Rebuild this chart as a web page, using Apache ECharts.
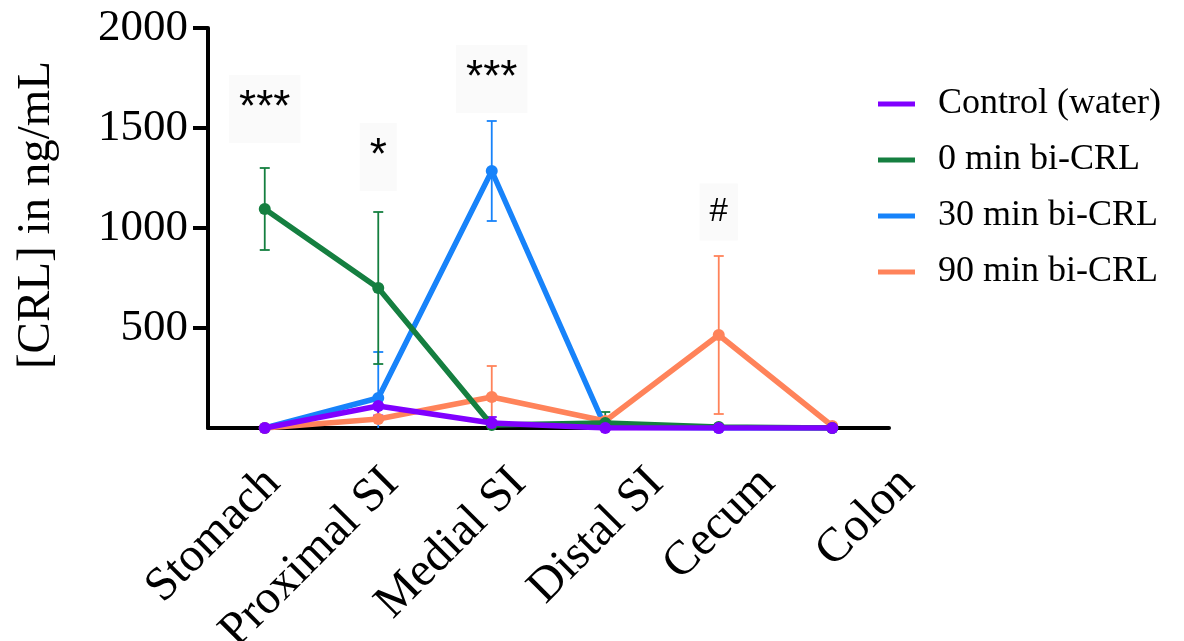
<!DOCTYPE html>
<html>
<head>
<meta charset="utf-8">
<script src="https://cdn.jsdelivr.net/npm/echarts@6/dist/echarts.min.js"></script>
<style>html,body{margin:0;padding:0;background:#fff;}#c{width:1184px;height:641px;}</style>
</head>
<body>
<div id="c"></div>
<script>
var categories = ['Stomach', 'Proximal SI', 'Medial SI', 'Distal SI', 'Cecum', 'Colon'];
var seriesNames = ['Control (water)', '0 min bi-CRL', '30 min bi-CRL', '90 min bi-CRL'];
var controlMean = [0, 110, 25, 0, 0, 0];
var controlSD   = [0, 47, 30, 0, 0, 0];
var min0Mean    = [1095, 700, 15, 25, 5, 0];
var min0SD      = [205, 380, 0, 55, 0, 0];
var min30Mean   = [0, 150, 1285, 5, 0, 0];
var min30SD     = [0, 230, 250, 0, 0, 0];
var min90Mean   = [0, 45, 155, 35, 465, 10];
var min90SD     = [0, 0, 155, 0, 395, 0];
var yTicks = [500, 1000, 1500, 2000];
var annotCats = ['Stomach', 'Proximal SI', 'Medial SI', 'Cecum'];
var annotTexts = ['***', '*', '***', '#'];
var annotValues = [1595, 1355, 1745, 1080];

// label placement styles (screen shift of each category label anchor, px)
var labelShiftX = [8, 13, 27, 51, 49, 75];
var labelShiftY = 48;

var colors = ['#8000FF', '#157F40', '#1783FA', '#FF835A'];
var means = [controlMean, min0Mean, min30Mean, min90Mean];
var sds = [controlSD, min0SD, min30SD, min90SD];
var zs = [5, 4, 2, 3];

var serif = 'Liberation Serif, Times New Roman, serif';
var series = [];
means.forEach(function (m, i) {
  series.push({
    name: seriesNames[i], type: 'line', data: m, z: zs[i] + 10,
    symbol: 'circle', symbolSize: 12, showSymbol: true,
    lineStyle: { width: 5.5, color: colors[i] },
    itemStyle: { color: colors[i] },
    emphasis: { disabled: true }, animation: false
  });
  var eb = [];
  m.forEach(function (v, j) {
    if (sds[i][j] > 0) eb.push([j, v, Math.max(0, v - sds[i][j]), v + sds[i][j]]);
  });
  series.push({
    type: 'custom', z: zs[i] + 5, data: eb, animation: false, silent: true,
    renderItem: function (params, api) {
      var x = api.value(0);
      var lo = api.coord([x, api.value(2)]);
      var hi = api.coord([x, api.value(3)]);
      var hw = 5;
      var st = { stroke: colors[i], lineWidth: 1.8 };
      var children = [
        { type: 'line', shape: { x1: hi[0], y1: hi[1], x2: lo[0], y2: lo[1] }, style: st },
        { type: 'line', shape: { x1: hi[0] - hw, y1: hi[1], x2: hi[0] + hw, y2: hi[1] }, style: st }
      ];
      if (api.value(2) > 0) {
        children.push({ type: 'line', shape: { x1: lo[0] - hw, y1: lo[1], x2: lo[0] + hw, y2: lo[1] }, style: st });
      }
      return { type: 'group', children: children };
    }
  });
});
// significance annotations
series.push({
  type: 'scatter', symbolSize: 0, silent: true, animation: false, z: 1,
  itemStyle: { opacity: 1 },
  emphasis: { disabled: true },
  data: annotCats.map(function (c, k) {
    return { value: [c, annotValues[k]], label: { formatter: annotTexts[k], fontSize: annotTexts[k] === '#' ? 33 : 44 } };
  }),
  label: { show: true, position: 'inside', color: '#000', fontFamily: 'Liberation Sans, Arial, sans-serif',
    textBorderWidth: 0, opacity: 1, backgroundColor: '#fafafa', padding: [12, 10] }
});
// rotated category labels
var rad = Math.PI / 4, cs = Math.cos(rad), sn = Math.sin(rad);
series.push({
  type: 'scatter', symbolSize: 0, silent: true, animation: false, z: 1,
  itemStyle: { opacity: 1 },
  emphasis: { disabled: true },
  data: categories.map(function (c, k) {
    var sx = labelShiftX[k], sy = labelShiftY;
    return { value: [c, 0], label: { offset: [cs * sx - sn * sy, sn * sx + cs * sy] } };
  }),
  label: { show: true, position: 'inside', formatter: function (p) { return p.value[0]; },
    rotate: 45, align: 'right', verticalAlign: 'middle', textBorderWidth: 0, opacity: 1,
    color: '#000', fontFamily: serif, fontSize: 48 }
});

var chart = echarts.init(document.getElementById('c'), null, { renderer: 'canvas' });
chart.setOption({
  backgroundColor: '#fff',
  animation: false,
  color: colors,
  grid: { left: 208, right: 295, top: 28, bottom: 213, containLabel: false },
  legend: {
    data: seriesNames, orient: 'vertical', left: 873, top: 81,
    icon: 'rect', itemWidth: 37, itemHeight: 5, itemGap: 20,
    textStyle: { fontFamily: serif, fontSize: 36, color: '#000', lineHeight: 36, padding: [0, 0, 0, 18] },
    selectedMode: false
  },
  xAxis: {
    type: 'category', data: categories, boundaryGap: true,
    axisLine: { lineStyle: { color: '#000', width: 4 } },
    axisTick: { show: false },
    axisLabel: { show: false }
  },
  yAxis: {
    type: 'value', min: 0, max: 2000, interval: 500,
    name: '[CRL] in ng/mL', nameLocation: 'middle', nameGap: 148, nameRotate: 90,
    nameTextStyle: { fontFamily: serif, fontSize: 47, color: '#000', padding: [0, 0, 0, 26] },
    axisLine: { show: true, lineStyle: { color: '#000', width: 4 } },
    axisTick: { show: true, length: 15, lineStyle: { color: '#000', width: 4 }, customValues: yTicks },
    axisLabel: { fontFamily: serif, fontSize: 45, color: '#000', margin: 20, customValues: yTicks,
      formatter: function (v) { return String(v); } },
    splitLine: { show: false }
  },
  series: series
});
</script>
</body>
</html>
